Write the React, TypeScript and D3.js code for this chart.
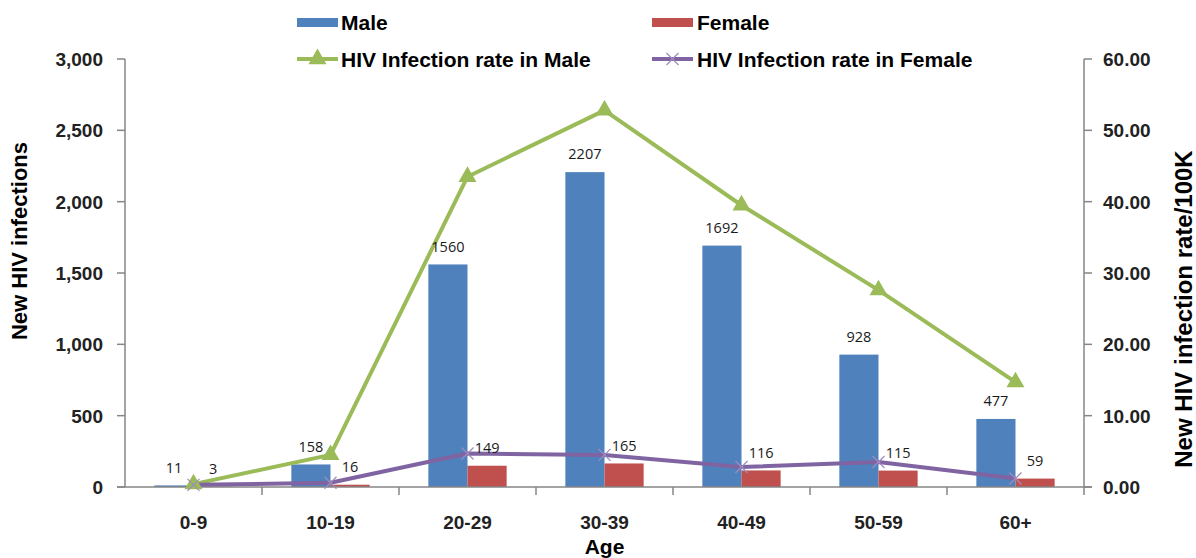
import React from "react";
import * as d3 from "d3";

const ageGroups = ["0-9", "10-19", "20-29", "30-39", "40-49", "50-59", "60+"];
const maleCases = [11, 158, 1560, 2207, 1692, 928, 477];
const femaleCases = [3, 16, 149, 165, 116, 115, 59];
const maleRate = [0.4, 4.5, 43.5, 52.8, 39.5, 27.6, 14.7];
const femaleRate = [0.3, 0.6, 4.7, 4.5, 2.8, 3.5, 1.2];
const leftTicks = [0, 500, 1000, 1500, 2000, 2500, 3000];
const rightTicks = [0, 10, 20, 30, 40, 50, 60];

const W = 1196;
const H = 558;
const left = 125;
const right = 1084;
const top = 59;
const bottom = 487;

const BLUE = "#4F81BD";
const RED = "#C0504D";
const GREEN = "#9BBB59";
const PURPLE = "#8064A2";
const AXIS = "#868686";
const BOLD = "'Liberation Sans', Arial, sans-serif";
const LABEL_FONT = "'Open Sans', 'Noto Sans', sans-serif";

export default function App() {
  const x = d3.scaleBand<string>().domain(ageGroups).range([left, right]);
  const sub = d3
    .scaleBand<string>()
    .domain(["male", "female"])
    .range([0, x.bandwidth()])
    .paddingInner(0)
    .paddingOuter(0.75);
  const yL = d3.scaleLinear().domain([0, 3000]).range([bottom, top]);
  const yR = d3.scaleLinear().domain([0, 60]).range([bottom, top]);
  const fmtL = d3.format(",");
  const fmtR = d3.format(".2f");

  const cx = (g: string) => (x(g) ?? 0) + x.bandwidth() / 2;
  const line = d3
    .line<number>()
    .x((_, i) => cx(ageGroups[i]))
    .y((d) => yR(d));

  const tri = d3.symbol().type(d3.symbolTriangle).size(140)() || "";
  const bw = sub.bandwidth();

  return (
    <svg
      width={W}
      height={H}
      style={{ position: "absolute", left: 0, top: 0, background: "#fff" }}
    >
      {/* bars */}
      {ageGroups.map((g, i) => (
        <g key={g}>
          <rect
            x={(x(g) ?? 0) + (sub("male") ?? 0)}
            y={yL(maleCases[i])}
            width={bw}
            height={bottom - yL(maleCases[i])}
            fill={BLUE}
          />
          <rect
            x={(x(g) ?? 0) + (sub("female") ?? 0)}
            y={yL(femaleCases[i])}
            width={bw}
            height={bottom - yL(femaleCases[i])}
            fill={RED}
          />
        </g>
      ))}

      {/* axes */}
      <line x1={left} x2={left} y1={top} y2={bottom} stroke={AXIS} strokeWidth={1.5} />
      <line x1={right} x2={right} y1={top} y2={bottom} stroke={AXIS} strokeWidth={1.5} />
      <line x1={left - 8} x2={right + 8} y1={bottom} y2={bottom} stroke={AXIS} strokeWidth={1.5} />
      {leftTicks.map((t) => (
        <g key={"l" + t}>
          <line x1={left - 8} x2={left} y1={yL(t)} y2={yL(t)} stroke={AXIS} strokeWidth={1.5} />
          <text
            x={103}
            y={yL(t)}
            dy="0.36em"
            textAnchor="end"
            fontFamily={BOLD}
            fontWeight="bold"
            fontSize={19}
            fill="#222"
          >
            {fmtL(t)}
          </text>
        </g>
      ))}
      {rightTicks.map((t) => (
        <g key={"r" + t}>
          <line x1={right} x2={right + 8} y1={yR(t)} y2={yR(t)} stroke={AXIS} strokeWidth={1.5} />
          <text
            x={1103}
            y={yR(t)}
            dy="0.36em"
            textAnchor="start"
            fontFamily={BOLD}
            fontWeight="bold"
            fontSize={19}
            fill="#222"
          >
            {fmtR(t)}
          </text>
        </g>
      ))}
      {ageGroups.map((g) => (
        <line
          key={"t" + g}
          x1={(x(g) ?? 0) + x.bandwidth()}
          x2={(x(g) ?? 0) + x.bandwidth()}
          y1={bottom}
          y2={bottom + 8}
          stroke={AXIS}
          strokeWidth={1.5}
        />
      ))}
      {ageGroups.map((g) => (
        <text
          key={"x" + g}
          x={cx(g)}
          y={522}
          dy="0.36em"
          textAnchor="middle"
          fontFamily={BOLD}
          fontWeight="bold"
          fontSize={19}
          fill="#222"
        >
          {g}
        </text>
      ))}
      <text
        x={(left + right) / 2}
        y={546}
        dy="0.36em"
        textAnchor="middle"
        fontFamily={BOLD}
        fontWeight="bold"
        fontSize={21}
        fill="#000"
      >
        Age
      </text>
      <text
        transform={`translate(19, 241) rotate(-90)`}
        dy="0.36em"
        textAnchor="middle"
        fontFamily={BOLD}
        fontWeight="bold"
        fontSize={22}
        fill="#000"
      >
        New HIV infections
      </text>
      <text
        transform={`translate(1183, 309) rotate(-90)`}
        dy="0.36em"
        textAnchor="middle"
        fontFamily={BOLD}
        fontWeight="bold"
        fontSize={24}
        fill="#000"
      >
        New HIV infection rate/100K
      </text>

      {/* lines */}
      <path d={line(maleRate) || ""} fill="none" stroke={GREEN} strokeWidth={4} strokeLinejoin="round" />
      <path d={line(femaleRate) || ""} fill="none" stroke={PURPLE} strokeWidth={4} strokeLinejoin="round" />
      {maleRate.map((v, i) => (
        <path
          key={"mt" + i}
          d={tri}
          transform={`translate(${cx(ageGroups[i])}, ${yR(v)})`}
          fill={GREEN}
        />
      ))}
      {femaleRate.map((v, i) => (
        <g
          key={"fx" + i}
          transform={`translate(${cx(ageGroups[i])}, ${yR(v)})`}
          stroke="#9f8bc0"
          strokeWidth={1.3}
        >
          <line x1={-6} y1={-6} x2={6} y2={6} />
          <line x1={-6} y1={6} x2={6} y2={-6} />
        </g>
      ))}

      {/* data labels */}
      {ageGroups.map((g, i) => (
        <g key={"dl" + g} fontFamily={LABEL_FONT} fontSize={14.5} fill="#1a1a1a">
          <text
            x={(x(g) ?? 0) + (sub("male") ?? 0) + bw / 2}
            y={yL(maleCases[i]) - 18}
            dy="0.36em"
            textAnchor="middle"
          >
            {maleCases[i]}
          </text>
          <text
            x={(x(g) ?? 0) + (sub("female") ?? 0) + bw / 2}
            y={yL(femaleCases[i]) - 18}
            dy="0.36em"
            textAnchor="middle"
          >
            {femaleCases[i]}
          </text>
        </g>
      ))}

      {/* legend */}
      <g fontFamily={BOLD} fontWeight="bold" fontSize={21} fill="#000">
        <rect x={297} y={18} width={41} height={9} fill={BLUE} />
        <text x={341} y={22} dy="0.36em">Male</text>
        <rect x={652} y={18} width={41} height={9} fill={RED} />
        <text x={697} y={22} dy="0.36em">Female</text>
        <line x1={297} x2={338} y1={59} y2={59} stroke={GREEN} strokeWidth={4} />
        <path d={tri} transform="translate(317.5, 59)" fill={GREEN} />
        <text x={341} y={59} dy="0.36em">HIV Infection rate in Male</text>
        <line x1={652} x2={693} y1={59} y2={59} stroke={PURPLE} strokeWidth={4} />
        <g transform="translate(672.5, 59)" stroke="#9f8bc0" strokeWidth={1.3}>
          <line x1={-6} y1={-6} x2={6} y2={6} />
          <line x1={-6} y1={6} x2={6} y2={-6} />
        </g>
        <text x={697} y={59} dy="0.36em">HIV Infection rate in Female</text>
      </g>
    </svg>
  );
}
